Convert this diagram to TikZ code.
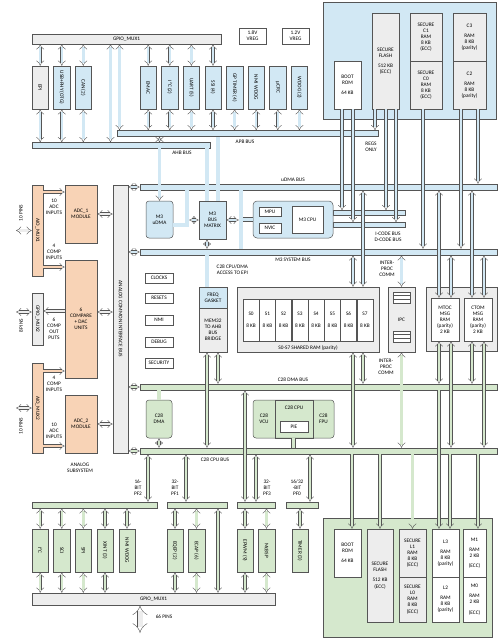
\documentclass[tikz,border=0pt]{standalone}
\usepackage{fontspec}
\setmainfont{Carlito}
\usepackage{graphicx}
\usetikzlibrary{arrows.meta}

\definecolor{blueF}{HTML}{D2E8F4}
\definecolor{greenF}{HTML}{D5E8CD}
\definecolor{orangeF}{HTML}{F8D3B6}
\definecolor{grayF}{HTML}{EDEDED}
\definecolor{lineC}{HTML}{555555}

\begin{document}
\begin{tikzpicture}[x=1pt,y=-1pt,
  every node/.style={font=\fontsize{5.3}{6.1}\selectfont,align=center,inner sep=0.5pt},
  box/.style={draw=lineC,line width=0.5pt,fill=#1},box/.default=white,
  sz/.style 2 args={minimum width=#1pt,minimum height=#2pt},
  link/.style={draw=lineC,line width=0.4pt,double=#1,double distance=2.4pt,{Implies}-{Implies}},link/.default=blueF,
  into/.style={link=#1,-{Implies}},into/.default=blueF,
  band/.style={draw=lineC,line width=0.4pt,double=#1,double distance=3.6pt},band/.default=blueF]

\useasboundingbox (0,0) rectangle (500,641);

% memory blocks
\node[box=blueF,sz={173}{117}] at (409.5,60.5) (topmem) {};
\node[box,sz={27}{48}] at (347.5,85) (rom1) {BOOT\\ROM\\[4pt]64 KB};
\node[box=grayF,sz={27}{96}] at (385.5,61) (flash1) {SECURE\\FLASH\\[4pt]512 KB\\(ECC)};
\node[box=grayF,sz={32}{48}] at (426,37) (c1) {SECURE\\C1\\RAM\\8 KB\\(ECC)};
\node[box=grayF,sz={32}{48}] at (426,85) (c0) {SECURE\\C0\\RAM\\8 KB\\(ECC)};
\node[box=grayF,sz={33}{48}] at (469.5,37) (c3) {C3\\[4pt]RAM\\8 KB\\(parity)};
\node[box=grayF,sz={33}{48}] at (469.5,85) (c2) {C2\\[4pt]RAM\\8 KB\\(parity)};

\node[box=greenF,sz={169}{119}] at (407.5,577.5) (botmem) {};
\node[box,sz={27}{48}] at (347.5,553) (rom2) {BOOT\\ROM\\[4pt]64 KB};
\node[box=grayF,sz={26}{93}] at (380,575.5) (flash2) {SECURE\\FLASH\\[4pt]512 KB\\(ECC)};
\node[box=grayF,sz={27}{48}] at (412.5,553) (l1) {SECURE\\L1\\RAM\\8 KB\\(ECC)};
\node[box=grayF,sz={27}{45}] at (412.5,599.5) (l0) {SECURE\\L0\\RAM\\8 KB\\(ECC)};
\node[box,sz={27}{48}] at (445.5,553) (l3) {L3\\[4pt]RAM\\8 KB\\(parity)};
\node[box,sz={27}{45}] at (445.5,599.5) (l2) {L2\\[4pt]RAM\\8 KB\\(parity)};
\node[box,sz={23}{48}] at (474.5,553) (m1) {M1\\[4pt]RAM\\2 KB\\[4pt](ECC)};
\node[box,sz={23}{45}] at (474.5,599.5) (m0) {M0\\[4pt]RAM\\2 KB\\[4pt](ECC)};

% top peripherals
\node[box=grayF,sz={189}{10}] at (126.5,39) (gpiotop) {GPIO\_MUX1};
\node[box=grayF,sz={16.5}{43}] at (40.2,87.5) (epi) {\rotatebox{-90}{EPI}};
\node[box=blueF,sz={16.5}{43}] at (61.8,87.5) (usb) {\rotatebox{-90}{USB+PHY (OTG)}};
\node[box=blueF,sz={16.5}{43}] at (83.3,87.5) (can) {\rotatebox{-90}{CAN (2)}};
\node[box=blueF,sz={16.5}{43}] at (148.2,87.5) (emac) {\rotatebox{-90}{EMAC}};
\node[box=blueF,sz={16.5}{43}] at (169.8,87.5) (i2ca) {\rotatebox{-90}{I²C (2)}};
\node[box=blueF,sz={16.5}{43}] at (191.4,87.5) (uart) {\rotatebox{-90}{UART (5)}};
\node[box=blueF,sz={16.5}{43}] at (213,87.5) (ssi) {\rotatebox{-90}{SSI (4)}};
\node[box=blueF,sz={16.5}{43}] at (234.6,87.5) (gptim) {\rotatebox{-90}{GP TIMER (4)}};
\node[box=blueF,sz={16.5}{43}] at (256.2,87.5) (nmiwd) {\rotatebox{-90}{NMI WDOG}};
\node[box=blueF,sz={16.5}{43}] at (277.8,87.5) (ucrc) {\rotatebox{-90}{µCRC}};
\node[box=blueF,sz={16.5}{43}] at (299.4,87.5) (wdog) {\rotatebox{-90}{WDOG (2)}};
\node[box,sz={27}{16}] at (252.5,36) (vreg18) {1.8V\\VREG};
\node[box,sz={27}{16}] at (295.5,36) (vreg12) {1.2V\\VREG};

% buses
\node[box=blueF,sz={261}{6}] at (247.5,133.5) (apb) {};
\node[box=blueF,sz={178}{5.5}] at (121,145.25) (ahb) {};
\node[box=blueF,sz={357}{6}] at (318.5,187) (udmabus) {};
\node[box=blueF,sz={357}{6}] at (318.5,252) (sysbus) {};
\node[box=greenF,sz={357}{6}] at (318.5,387) (dmabus) {};
\node[box=greenF,sz={357}{6}] at (318.5,451) (cpubus) {};
\node[box=blueF,sz={72}{5}] at (369,213) (icode) {};
\node[box=blueF,sz={72}{5}] at (369,225) (dcode) {};

\node at (245,142) (apblbl) {APB BUS};
\node at (182,153) (ahblbl) {AHB BUS};
\node at (371,146.5) (regs) {REGS\\ONLY};
\node at (293,179.5) (udmalbl) {uDMA BUS};
\node at (293,259.5) (syslbl) {M3 SYSTEM BUS};
\node at (388,237) (codelbl) {I-CODE BUS\\D-CODE BUS};
\node at (293,379.5) (dmalbl) {C28 DMA BUS};
\node at (215,459.5) (cpulbl) {C28 CPU BUS};

% M3 side
\node[box=blueF,sz={27}{37},rounded corners=3pt] at (159.5,219.5) (udma) {M3\\uDMA};
\node[box=blueF,sz={27}{38}] at (212.5,220) (bm) {M3\\BUS\\MATRIX};
\node[box=blueF,sz={80}{37},rounded corners=4pt] at (293,219.5) (m3sub) {};
\node[box,sz={22}{9}] at (270,211.5) (mpu) {MPU};
\node[box,sz={22}{10}] at (270,228) (nvic) {NVIC};
\node[box,sz={31}{27}] at (307.5,219.5) (m3cpu) {M3 CPU};

\node[box,sz={28}{10}] at (159,278) (clocks) {CLOCKS};
\node[box,sz={28}{10}] at (159,298) (resets) {RESETS};
\node[box,sz={28}{10}] at (159,320) (nmibox) {NMI};
\node[box,sz={28}{10}] at (159,342) (debug) {DEBUG};
\node[box,sz={28}{10}] at (159,363) (security) {SECURITY};

\node[box=blueF,sz={28}{21}] at (213,297.5) (gasket) {FREQ\\GASKET};
\node[box=grayF,sz={28}{44}] at (213,330) (bridge) {MEM32\\TO AHB\\BUS\\BRIDGE};
\node[anchor=west] at (216,270) (epilbl) {C28 CPU/DMA\\ACCESS TO EPI};

\node[box=grayF,sz={142}{65}] at (308,319.5) (sram) {};
\node[box,sz={16.25}{42}] at (251.1,320) (s0) {S0\\[6pt]8 KB};
\node[box,sz={16.25}{42}] at (267.4,320) (s1) {S1\\[6pt]8 KB};
\node[box,sz={16.25}{42}] at (283.6,320) (s2) {S2\\[6pt]8 KB};
\node[box,sz={16.25}{42}] at (299.9,320) (s3) {S3\\[6pt]8 KB};
\node[box,sz={16.25}{42}] at (316.1,320) (s4) {S4\\[6pt]8 KB};
\node[box,sz={16.25}{42}] at (332.4,320) (s5) {S5\\[6pt]8 KB};
\node[box,sz={16.25}{42}] at (348.6,320) (s6) {S6\\[6pt]8 KB};
\node[box,sz={16.25}{42}] at (364.9,320) (s7) {S7\\[6pt]8 KB};
\node at (308,347.5) (sramlbl) {S0-S7 SHARED RAM (parity)};

\node[box=grayF,sz={27}{65}] at (401.5,319.5) (ipc) {IPC};
\node[box,sz={17}{11}] at (401.5,297.5) (ipcq1) {};
\node[box,sz={17}{11}] at (401.5,336.5) (ipcq2) {};
\draw[lineC,line width=0.5pt] ([yshift=1.8pt]ipcq1.west) -- ([yshift=1.8pt]ipcq1.east);
\draw[lineC,line width=0.5pt] ([yshift=-1.8pt]ipcq1.west) -- ([yshift=-1.8pt]ipcq1.east);
\draw[lineC,line width=0.5pt] ([yshift=1.8pt]ipcq2.west) -- ([yshift=1.8pt]ipcq2.east);
\draw[lineC,line width=0.5pt] ([yshift=-1.8pt]ipcq2.west) -- ([yshift=-1.8pt]ipcq2.east);
\node at (387,269) (ipclbl1) {INTER-\\PROC\\COMM};
\node at (386,367) (ipclbl2) {INTER-\\PROC\\COMM};

\node[box=grayF,sz={71}{64}] at (461.5,319) (msgblk) {};
\node[box,sz={28}{43}] at (445,319.5) (mtoc) {MTOC\\MSG\\RAM\\(parity)\\2 KB};
\node[box,sz={28}{43}] at (478,319.5) (ctom) {CTOM\\MSG\\RAM\\(parity)\\2 KB};

% C28 side
\node[box=greenF,sz={26}{38},rounded corners=3pt] at (159,419) (c28dma) {C28\\DMA};
\node[box=greenF,sz={81}{38},rounded corners=3pt] at (293.5,419) (c28sub) {};
\node[draw=lineC,line width=0.5pt,sz={38}{38}] at (294,419) (c28cpu) {};
\node at (264,419) (vcu) {C28\\VCU};
\node at (294,408) (c28lbl) {C28 CPU};
\node at (323.5,419) (fpu) {C28\\FPU};
\node[box,sz={28}{11}] at (294,427) (pie) {PIE};

% analog subsystem
\node[box=grayF,sz={15}{268}] at (120.5,319) (acib) {\rotatebox{-90}{ANALOG COMMON INTERFACE BUS}};
\node[box=orangeF,sz={11}{91}] at (37.5,230.5) (aio1) {\rotatebox{-90}{AIO\_MUX1}};
\node[box=grayF,sz={11}{52}] at (37.5,319) (gpio2) {\rotatebox{-90}{GPIO\_MUX2}};
\node[box=orangeF,sz={11}{90}] at (37.5,408) (aio2) {\rotatebox{-90}{AIO\_MUX2}};
\node[box=orangeF,sz={32}{58}] at (81,214) (adc1) {ADC\_1\\MODULE};
\node[box=orangeF,sz={32}{118}] at (81,319) (cmp) {6\\COMPARE\\+ DAC\\UNITS};
\node[box=orangeF,sz={32}{58}] at (81,424) (adc2) {ADC\_2\\MODULE};
\node at (54,207) (in1) {10\\ADC\\INPUTS};
\node at (54,252) (in2) {4\\COMP\\INPUTS};
\node at (54,329) (out1) {6\\COMP\\OUT\\PUTS};
\node at (54,384) (in3) {4\\COMP\\INPUTS};
\node at (54,431) (in4) {10\\ADC\\INPUTS};
\node at (21,213) (pins1) {\rotatebox{90}{10 PINS}};
\node at (21,326) (pins2) {\rotatebox{90}{8 PINS}};
\node at (21,426) (pins3) {\rotatebox{90}{10 PINS}};
\node at (80,468) (anlbl) {ANALOG\\SUBSYSTEM};
\coordinate (px) at (16,0);

% bottom peripherals
\node[box=greenF,sz={125}{6}] at (94.5,505) (pf2) {};
\node[box=greenF,sz={60}{6}] at (197,505) (pf1) {};
\node[box=greenF,sz={38}{6}] at (256,505) (pf3) {};
\node[box=greenF,sz={32}{6}] at (302,505) (pf0) {};
\node at (138,488) (pf2lbl) {16-\\BIT\\PF2};
\node at (175,488) (pf1lbl) {32-\\BIT\\PF1};
\node at (267,488) (pf3lbl) {32-\\BIT\\PF3};
\node at (297,488) (pf0lbl) {16/32\\-BIT\\PF0};
\node[box=greenF,sz={16.5}{43}] at (40.2,550.5) (i2cb) {\rotatebox{-90}{I²C}};
\node[box=greenF,sz={16.5}{43}] at (61.8,550.5) (sci) {\rotatebox{-90}{SCI}};
\node[box=greenF,sz={16.5}{43}] at (83.3,550.5) (spi) {\rotatebox{-90}{SPI}};
\node[box=greenF,sz={16.5}{43}] at (105,550.5) (xint) {\rotatebox{-90}{XINT (3)}};
\node[box=greenF,sz={16.5}{43}] at (127,550.5) (nmiwdb) {\rotatebox{-90}{NMI WDOG}};
\node[box=greenF,sz={16.5}{43}] at (175,550.5) (eqep) {\rotatebox{-90}{EQEP (2)}};
\node[box=greenF,sz={16.5}{43}] at (196.5,550.5) (ecap) {\rotatebox{-90}{ECAP (6)}};
\node[box=greenF,sz={16.5}{43}] at (245,550.5) (epwm) {\rotatebox{-90}{EPWM (9)}};
\node[box=greenF,sz={16.5}{43}] at (266.5,550.5) (mcbsp) {\rotatebox{-90}{McBSP}};
\node[box=greenF,sz={16.5}{43}] at (300,550.5) (timer) {\rotatebox{-90}{TIMER (3)}};
\node[box=grayF,sz={243}{12}] at (153.5,599) (gpiobot) {GPIO\_MUX1};
\coordinate (pins) at (140,633);
\node at (164,617) (pinlbl) {66 PINS};

% top connectors
\draw[link] (gpiotop.south -| epi) -- (epi.north);
\draw[link] (gpiotop.south -| usb) -- (usb.north);
\draw[link] (gpiotop.south -| can) -- (can.north);
\draw[link] (gpiotop.south -| emac) -- (emac.north);
\draw[link] (gpiotop.south -| i2ca) -- (i2ca.north);
\draw[link] (gpiotop.south -| uart) -- (uart.north);
\draw[link] (gpiotop.south -| ssi) -- (ssi.north);
\draw[link] ([xshift=-16pt]gpiotop.south) -- ([xshift=-16pt]gpiotop.south |- ahb.north);
\draw[link] ([xshift=-7pt]gpiotop.south) -- ([xshift=-7pt]gpiotop.south |- apb.north);
\draw[link] (epi.south) -- (epi.south |- ahb.north);
\draw[link] (usb.south) -- (usb.south |- ahb.north);
\draw[link] (can.south) -- (can.south |- ahb.north);
\draw[link] (emac.south) -- (emac.south |- apb.north);
\draw[link] (i2ca.south) -- (i2ca.south |- apb.north);
\draw[link] (uart.south) -- (uart.south |- apb.north);
\draw[link] (ssi.south) -- (ssi.south |- apb.north);
\draw[link] (gptim.south) -- (gptim.south |- apb.north);
\draw[link] (nmiwd.south) -- (nmiwd.south |- apb.north);
\draw[link] (ucrc.south) -- (ucrc.south |- apb.north);
\draw[link] (wdog.south) -- (wdog.south |- apb.north);
\draw[link] (apb.south -| udma) -- (ahb.north -| udma);
\draw[into] (ahb.south -| udma) -- (udma.north);
\draw[band] ([xshift=-5.5pt]bm.north |- ahb.south) -- ([xshift=-5.5pt]bm.north);
\draw[band] ([xshift=5.5pt]bm.north |- apb.south) -- ([xshift=5.5pt]bm.north);

\draw[into] ([xshift=-10.5pt]flash1.south) -- ([xshift=-10.5pt]flash1.south |- apb.north);
\draw[into] ([xshift=-5.5pt]rom1.south) -- ([xshift=-5.5pt]rom1.south |- icode.north);
\draw[into] ([xshift=5.5pt]rom1.south) -- ([xshift=5.5pt]rom1.south |- dcode.north);
\draw[into] ([xshift=0.5pt]flash1.south) -- ([xshift=0.5pt]flash1.south |- icode.north);
\draw[into] ([xshift=10.5pt]flash1.south) -- ([xshift=10.5pt]flash1.south |- dcode.north);
\draw[into] ([xshift=-3pt]c0.south) -- ([xshift=-3pt]c0.south |- sysbus.north);
\draw[into] ([xshift=-8.5pt]c2.south) -- ([xshift=-8.5pt]c2.south |- sysbus.north);
\draw[into] ([xshift=8.5pt]c2.south) -- ([xshift=8.5pt]c2.south |- udmabus.north);

% M3 connectors
\coordinate (ux) at (187,0);
\coordinate (cx) at (241,0);
\draw[link] (acib.east |- udmabus) -- (udmabus.west);
\draw[link] (acib.east |- sysbus) -- (sysbus.west);
\draw[band] ([yshift=-5.5pt]udma.east) -| (ux |- udmabus.south);
\draw[link] ([xshift=2.2pt]ux |- bm.west) -- (bm.west);
\draw[band] (cx |- udmabus.south) -- (cx |- sysbus.north);
\draw[link] (bm.east) -- ([xshift=-2.2pt]cx |- bm.east);
\draw[band] ([xshift=2.2pt]cx |- m3sub.west) -- (m3sub.west);
\draw[link] ([xshift=-5.5pt]bm.south) -- ([xshift=-5.5pt]bm.south |- sysbus.north);
\draw[band] ([xshift=-6pt]gasket.north |- sysbus.south) -- ([xshift=-6pt]gasket.north);

\draw[link] ([xshift=45pt]sram.north |- sysbus.south) -- ([xshift=45pt]sram.north);
\draw[link] ([xshift=55pt]sram.north |- udmabus.south) -- ([xshift=55pt]sram.north);
\draw[link] (ipc.north |- sysbus.south) -- (ipc.north);
\draw[link] ([xshift=-6pt]mtoc.north |- udmabus.south) -- ([xshift=-6pt]mtoc.north);
\draw[link] ([xshift=6pt]mtoc.north |- sysbus.south) -- ([xshift=6pt]mtoc.north);
\draw[link] ([xshift=-6pt]ctom.north |- udmabus.south) -- ([xshift=-6pt]ctom.north);
\draw[link] ([xshift=6pt]ctom.north |- sysbus.south) -- ([xshift=6pt]ctom.north);

% C28 connectors
\draw[link=greenF] (acib.east |- dmabus) -- (dmabus.west);
\draw[link=greenF] (acib.east |- cpubus) -- (cpubus.west);
\draw[link=greenF] ([xshift=55pt]sram.south) -- ([xshift=55pt]sram.south |- dmabus.north);
\draw[link=greenF] ([xshift=45pt]sram.south) -- ([xshift=45pt]sram.south |- cpubus.north);
\draw[link=greenF] (ipc.south) -- (ipc.south |- cpubus.north);
\draw[link=greenF] ([xshift=-6pt]mtoc.south) -- ([xshift=-6pt]mtoc.south |- dmabus.north);
\draw[link=greenF] ([xshift=6pt]mtoc.south) -- ([xshift=6pt]mtoc.south |- cpubus.north);
\draw[link=greenF] ([xshift=-6pt]ctom.south) -- ([xshift=-6pt]ctom.south |- dmabus.north);
\draw[link=greenF] ([xshift=6pt]ctom.south) -- ([xshift=6pt]ctom.south |- cpubus.north);
\draw[link=greenF] ([xshift=5pt]bridge.south) -- ([xshift=5pt]bridge.south |- dmabus.north);
\draw[link=greenF] ([xshift=-6pt]bridge.south) -- ([xshift=-6pt]bridge.south |- cpubus.north);
\draw[band=greenF] (c28dma.north |- dmabus.south) -- (c28dma.north);
\draw[link=greenF] (c28dma.south) -- (c28dma.south |- cpubus.north);
\draw[band=greenF] (c28sub.south) -- (c28sub.south |- cpubus.north);

% bottom connectors
\draw[link=greenF] ([xshift=53.5pt]pf2.north |- cpubus.south) -- ([xshift=53.5pt]pf2.north);
\draw[link=greenF] ([xshift=-11pt]pf1.north |- cpubus.south) -- ([xshift=-11pt]pf1.north);
\draw[link=greenF] (pf3.north |- cpubus.south) -- (pf3.north);
\draw[link=greenF] ([xshift=-11pt]pf3.north |- dmabus.south) -- ([xshift=-11pt]pf3.north);
\draw[link=greenF] ([xshift=8pt]pf0.north |- cpubus.south) -- ([xshift=8pt]pf0.north);
\draw[link=greenF] (pf2.south -| i2cb) -- (i2cb.north);
\draw[link=greenF] (pf2.south -| sci) -- (sci.north);
\draw[link=greenF] (pf2.south -| spi) -- (spi.north);
\draw[link=greenF] (pf2.south -| xint) -- (xint.north);
\draw[link=greenF] (pf2.south -| nmiwdb) -- (nmiwdb.north);
\draw[link=greenF] (i2cb.south) -- (i2cb.south |- gpiobot.north);
\draw[link=greenF] (sci.south) -- (sci.south |- gpiobot.north);
\draw[link=greenF] (spi.south) -- (spi.south |- gpiobot.north);
\draw[link=greenF] (xint.south) -- (xint.south |- gpiobot.north);
\draw[link=greenF] (pf1.south -| eqep) -- (eqep.north);
\draw[link=greenF] (pf1.south -| ecap) -- (ecap.north);
\draw[link=greenF] (eqep.south) -- (eqep.south |- gpiobot.north);
\draw[link=greenF] (ecap.south) -- (ecap.south |- gpiobot.north);
\draw[link=greenF] ([xshift=21pt]pf1.south) -- ([xshift=21pt]pf1.south |- gpiobot.north);
\draw[link=greenF] (pf3.south -| epwm) -- (epwm.north);
\draw[link=greenF] (pf3.south -| mcbsp) -- (mcbsp.north);
\draw[link=greenF] (epwm.south) -- (epwm.south |- gpiobot.north);
\draw[link=greenF] (mcbsp.south) -- (mcbsp.south |- gpiobot.north);
\draw[link=greenF] (pf0.south -| timer) -- (timer.north);
\draw[link=grayF,double distance=5pt] (gpiobot.south -| pins) -- (pins);

\draw[into=greenF] ([xshift=4.5pt]rom2.north |- cpubus.south) -- ([xshift=4.5pt]rom2.north);
\draw[into=greenF] (flash2.north |- cpubus.south) -- (flash2.north);
\draw[into=greenF] (l1.north |- cpubus.south) -- (l1.north);
\draw[into=greenF] ([xshift=-6.5pt]l3.north |- dmabus.south) -- ([xshift=-6.5pt]l3.north);
\draw[into=greenF] ([xshift=4.5pt]l3.north |- cpubus.south) -- ([xshift=4.5pt]l3.north);
\draw[into=greenF] ([xshift=3.5pt]m1.north |- cpubus.south) -- ([xshift=3.5pt]m1.north);

% analog connectors
\draw[into=orangeF] ([yshift=22pt]adc1.west -| aio1.east) -- ([yshift=22pt]adc1.west);
\draw[into=orangeF] ([yshift=52pt]cmp.west -| aio1.east) -- ([yshift=52pt]cmp.west);
\draw[into=grayF] ([yshift=8pt]cmp.west) -- ([yshift=8pt]cmp.west -| gpio2.east);
\draw[into=orangeF] ([yshift=-52pt]cmp.west -| aio2.east) -- ([yshift=-52pt]cmp.west);
\draw[into=orangeF] ([yshift=-22pt]adc2.west -| aio2.east) -- ([yshift=-22pt]adc2.west);
\draw[link=grayF] (adc1.east) -- (adc1.east -| acib.west);
\draw[link=grayF] ([yshift=7pt]cmp.east) -- ([yshift=7pt]cmp.east -| acib.west);
\draw[link=grayF] (adc2.east) -- (adc2.east -| acib.west);
\draw[link=grayF] (aio1.west) -- (aio1.west -| px);
\draw[link=grayF] ([yshift=7pt]gpio2.west) -- ([yshift=7pt]gpio2.west -| px);
\draw[link=grayF] (aio2.west) -- (aio2.west -| px);

\end{tikzpicture}
\end{document}
